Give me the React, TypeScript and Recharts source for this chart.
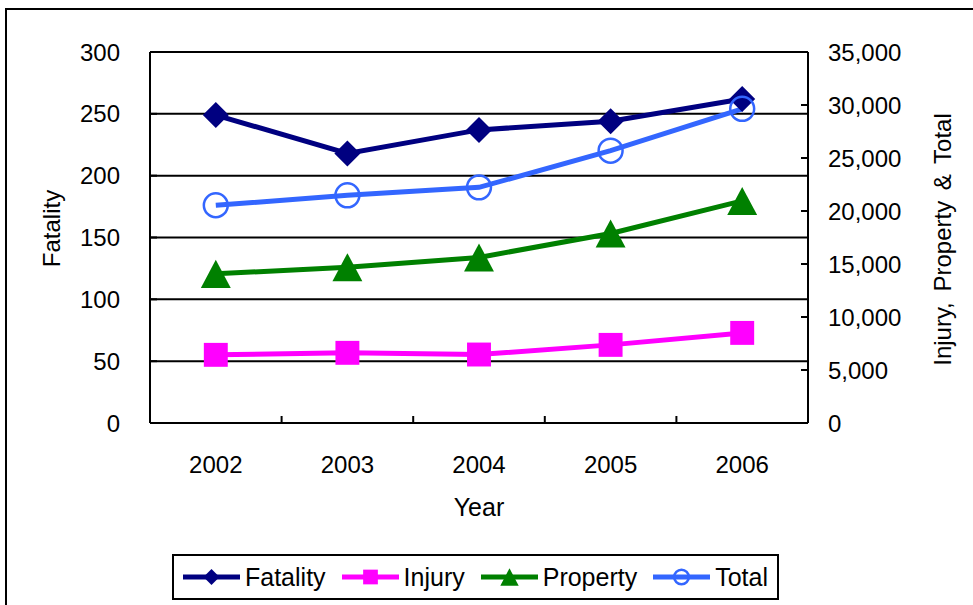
import { LineChart, Line, XAxis, YAxis, CartesianGrid, Legend, Label } from "recharts";

const years = ["2002", "2003", "2004", "2005", "2006"];
const fatality = [249, 218, 237, 244, 262];
const injury = [6430, 6620, 6460, 7370, 8500];
const property = [14070, 14700, 15620, 17880, 20950];
const total = [20540, 21480, 22230, 25690, 29640];

const fatalityTicks = [0, 50, 100, 150, 200, 250, 300];
const countTicks = [0, 5000, 10000, 15000, 20000, 25000, 30000, 35000];

const data = years.map((year, i) => ({
  year,
  Fatality: fatality[i],
  Injury: injury[i],
  Property: property[i],
  Total: total[i],
}));

const series = [
  { key: "Fatality", color: "#000080", shape: "diamond", axis: "left" },
  { key: "Injury", color: "#FF00FF", shape: "square", axis: "right" },
  { key: "Property", color: "#008000", shape: "triangle", axis: "right" },
  { key: "Total", color: "#3366FF", shape: "circle", axis: "right" },
];

const FONT = '"Liberation Sans", Arial, sans-serif';
const FS = 24;
// half of one year's slot on the x axis (plot is 658px wide, 5 years)
const HALF_SLOT = 65.8;

function Marker({ shape, cx, cy, color, size }: any) {
  if (shape === "diamond") {
    return (
      <path
        d={`M${cx},${cy - size} L${cx + size},${cy} L${cx},${cy + size} L${cx - size},${cy} Z`}
        fill={color}
      />
    );
  }
  if (shape === "square") {
    const s = size * 0.92;
    return <rect x={cx - s} y={cy - s} width={s * 2} height={s * 2} fill={color} />;
  }
  if (shape === "triangle") {
    const w = size * 1.15;
    const h = size * 1.08;
    return (
      <path d={`M${cx},${cy - h} L${cx + w},${cy + h} L${cx - w},${cy + h} Z`} fill={color} />
    );
  }
  return <circle cx={cx} cy={cy} r={size * 0.92} fill="none" stroke={color} strokeWidth={2.5} />;
}

const LeftTick = ({ x, y, payload }: any) => (
  <g>
    <line x1={x + 30} x2={x + 37} y1={y} y2={y} stroke="#000" strokeWidth={2} />
    <text x={x} y={y} dy="0.355em" textAnchor="end" fontSize={FS} fontFamily={FONT} fill="#000">
      {payload.value}
    </text>
  </g>
);

const RightTick = ({ x, y, payload }: any) => (
  <g>
    <line x1={x - 27} x2={x - 20} y1={y} y2={y} stroke="#000" strokeWidth={2} />
    <text x={x} y={y} dy="0.355em" textAnchor="start" fontSize={FS} fontFamily={FONT} fill="#000">
      {payload.value.toLocaleString("en-US")}
    </text>
  </g>
);

// tick marks sit on the boundaries between years and point into the plot
const BottomTick = ({ x, y, payload }: any) => (
  <g>
    <line x1={x + HALF_SLOT} x2={x + HALF_SLOT} y1={y - 33} y2={y - 40} stroke="#000" strokeWidth={2} />
    <text x={x} y={y} dy="0.71em" textAnchor="middle" fontSize={FS} fontFamily={FONT} fill="#000">
      {payload.value}
    </text>
  </g>
);

const renderLegend = ({ payload }: any) => (
  <div
    style={{
      display: "flex",
      alignItems: "center",
      justifyContent: "space-between",
      height: 46,
      boxSizing: "border-box",
      border: "2px solid #000",
      padding: "0 9px",
      background: "#fff",
      fontFamily: FONT,
      fontSize: 25,
      color: "#000",
    }}
  >
    {(payload || []).map((entry: any) => {
      const s = series.find((d) => d.key === entry.dataKey) || series[0];
      return (
        <div key={s.key} style={{ display: "flex", alignItems: "center" }}>
          <svg width={57} height={30}>
            <line x1={0} x2={57} y1={15} y2={15} stroke={s.color} strokeWidth={5} />
            <Marker shape={s.shape} cx={28.5} cy={15} color={s.color} size={8} />
          </svg>
          <span style={{ marginLeft: 5, lineHeight: 1 }}>{entry.value}</span>
        </div>
      );
    })}
  </div>
);

export default function App() {
  return (
    <div
      style={{
        position: "absolute",
        left: 0,
        top: 0,
        width: 973,
        height: 605,
        overflow: "hidden",
        background: "#fff",
      }}
    >
      <div
        style={{
          position: "absolute",
          left: 5,
          top: 8,
          width: 1000,
          height: 1000,
          border: "2px solid #000",
        }}
      />
      <div style={{ position: "absolute", left: 0, top: 0 }}>
        <LineChart width={973} height={605} data={data} margin={{ top: 52, right: 0, left: 0, bottom: 5 }}>
          <CartesianGrid yAxisId="left" vertical={false} stroke="#000" strokeWidth={2} />
          <XAxis
            dataKey="year"
            height={131}
            padding={{ left: HALF_SLOT, right: HALF_SLOT }}
            tickSize={0}
            tickMargin={33}
            tick={<BottomTick />}
            axisLine={{ stroke: "#000", strokeWidth: 2 }}
          >
            <Label
              content={({ viewBox }: any) => (
                <text
                  x={viewBox.x + viewBox.width / 2}
                  y={viewBox.y + 84}
                  dy="0.355em"
                  textAnchor="middle"
                  fontSize={25}
                  fontFamily={FONT}
                  fill="#000"
                >
                  Year
                </text>
              )}
            />
          </XAxis>
          <YAxis
            yAxisId="left"
            width={150}
            domain={[0, 300]}
            ticks={fatalityTicks}
            interval={0}
            tickSize={0}
            tickMargin={30}
            tick={<LeftTick />}
            axisLine={{ stroke: "#000", strokeWidth: 2 }}
          >
            <Label
              content={({ viewBox }: any) => (
                <text
                  transform={`translate(${viewBox.x + 51},${viewBox.y + viewBox.height / 2 - 9}) rotate(-90)`}
                  dy="0.355em"
                  textAnchor="middle"
                  fontSize={FS}
                  fontFamily={FONT}
                  fill="#000"
                >
                  Fatality
                </text>
              )}
            />
          </YAxis>
          <YAxis
            yAxisId="right"
            orientation="right"
            width={165}
            domain={[0, 35000]}
            ticks={countTicks}
            interval={0}
            tickSize={0}
            tickMargin={20}
            tick={<RightTick />}
            axisLine={{ stroke: "#000", strokeWidth: 2 }}
          >
            <Label
              content={({ viewBox }: any) => (
                <text
                  transform={`translate(${viewBox.x + 134},${viewBox.y + viewBox.height / 2 + 2}) rotate(-90)`}
                  dy="0.355em"
                  textAnchor="middle"
                  fontSize={FS}
                  fontFamily={FONT}
                  fill="#000"
                  wordSpacing={4}
                >
                  Injury, Property &amp; Total
                </text>
              )}
            />
          </YAxis>
          <Legend
            verticalAlign="bottom"
            content={renderLegend}
            wrapperStyle={{ left: 172, bottom: 5, width: 607 }}
          />
          {series.map((s) => (
            <Line
              key={s.key}
              yAxisId={s.axis}
              dataKey={s.key}
              name={s.key}
              stroke={s.color}
              strokeWidth={5}
              isAnimationActive={false}
              activeDot={false}
              dot={(p: any) => (
                <Marker key={`${s.key}-${p.index}`} shape={s.shape} cx={p.cx} cy={p.cy} color={s.color} size={13} />
              )}
            />
          ))}
        </LineChart>
      </div>
    </div>
  );
}
